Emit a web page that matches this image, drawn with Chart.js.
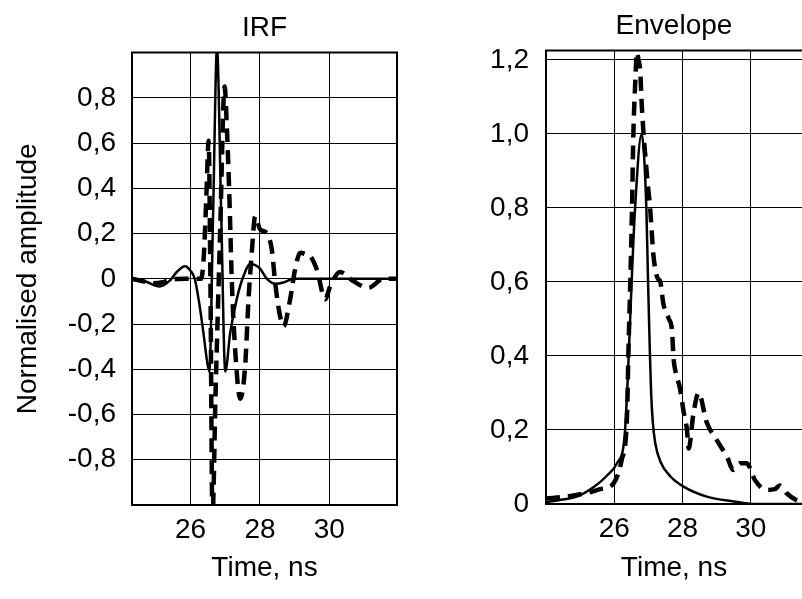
<!DOCTYPE html>
<html>
<head>
<meta charset="utf-8">
<script src="https://cdn.jsdelivr.net/npm/chart.js@4/dist/chart.umd.min.js"></script>
<style>
  html, body { margin: 0; padding: 0; background: #fff; overflow: hidden; }
  canvas { position: absolute; top: 0; }
  #irf { left: 0; }
  #envelope { left: 470px; }
</style>
</head>
<body>
<canvas id="irf" width="420" height="599"></canvas>
<canvas id="envelope" width="332" height="599"></canvas>
<script>
// IRF panel, solid trace (time in ns, normalised amplitude)
const irfSolidT = [24.3, 24.7, 25.1, 25.4, 25.6, 25.84, 26.0, 26.12, 26.23, 26.37, 26.47, 26.54, 26.65, 26.76, 26.88, 27.0, 27.14, 27.33, 27.52, 27.72, 28.0, 28.2, 28.45, 28.7, 28.97, 29.5, 30.5, 31.95];
const irfSolidA = [0.005, -0.012, -0.034, -0.008, 0.03, 0.056, 0.035, 0.0, -0.09, -0.24, -0.36, -0.41, 0.3, 1.02, 0.3, -0.41, -0.24, -0.09, 0.01, 0.065, 0.045, 0.0, -0.022, -0.015, 0.0, 0.0, 0.0, 0.0];

// IRF panel, dashed trace
const irfDashT = [24.3, 24.6, 24.92, 25.2, 25.4, 25.88, 26.3, 26.38, 26.45, 26.52, 26.57, 26.63, 26.72, 26.85, 26.98, 27.05, 27.12, 27.19, 27.3, 27.43, 27.57, 27.67, 27.77, 27.86, 28.0, 28.2, 28.34, 28.44, 28.56, 28.68, 28.87, 29.01, 29.16, 29.3, 29.45, 29.64, 29.88, 30.02, 30.31, 30.69, 31.12, 31.56, 31.95];
const irfDashA = [0.0, -0.01, -0.02, -0.015, -0.005, 0.0, 0.0, 0.1, 0.35, 0.61, 0.0, -1.05, -0.5, 0.2, 0.85, 0.65, 0.35, -0.02, -0.35, -0.53, -0.39, -0.09, 0.13, 0.276, 0.22, 0.2, 0.13, -0.02, -0.15, -0.21, -0.09, 0.04, 0.115, 0.11, 0.1, 0.04, -0.09, -0.034, 0.03, -0.01, -0.04, 0.0, 0.0];

// Envelope panel, solid trace
const envSolidT = [24.0, 24.5, 24.9, 25.4, 25.79, 26.08, 26.3, 26.4, 26.5, 26.61, 26.8, 26.94, 26.99, 27.04, 27.08, 27.13, 27.2, 27.35, 27.64, 28.03, 28.71, 29.5, 30.1, 31.5];
const envSolidA = [0.005, 0.012, 0.02, 0.046, 0.077, 0.11, 0.18, 0.35, 0.58, 0.8, 1.0, 0.8, 0.6, 0.42, 0.3, 0.22, 0.165, 0.115, 0.075, 0.047, 0.02, 0.007, 0.0, 0.0];

// Envelope panel, dashed trace
const envDashT = [24.0, 24.6, 25.2, 25.59, 25.98, 26.22, 26.37, 26.42, 26.47, 26.52, 26.56, 26.62, 26.66, 26.71, 26.76, 26.81, 26.97, 27.05, 27.15, 27.27, 27.35, 27.44, 27.6, 27.69, 27.74, 27.79, 27.93, 28.03, 28.13, 28.18, 28.32, 28.47, 28.71, 29.0, 29.3, 29.49, 29.68, 29.88, 30.12, 30.46, 30.7, 30.85, 31.05, 31.34, 31.5];
const envDashA = [0.015, 0.02, 0.03, 0.04, 0.056, 0.12, 0.23, 0.43, 0.6, 0.8, 1.0, 1.15, 1.22, 1.2, 1.17, 1.07, 0.875, 0.8, 0.67, 0.61, 0.6, 0.54, 0.5, 0.47, 0.39, 0.36, 0.31, 0.25, 0.2, 0.15, 0.245, 0.3, 0.22, 0.173, 0.128, 0.092, 0.11, 0.11, 0.065, 0.038, 0.04, 0.05, 0.029, 0.01, 0.005];

const timeTicks = [26, 28, 30];
const irfGrid = [-1, -0.8, -0.6, -0.4, -0.2, 0, 0.2, 0.4, 0.6, 0.8, 1];
const envGrid = [0, 0.2, 0.4, 0.6, 0.8, 1.0, 1.2];

const FONT = "'Liberation Sans', Arial, sans-serif";
const SIZE = 28;
const zip = (xs, ys) => xs.map((x, i) => ({x: x, y: ys[i]}));
const fmt = v => Math.abs(v) < 1e-9 ? "0" : v.toFixed(1).replace(".", ",");

// black box round the plot area (right side left open when the panel runs off the page)
const framePlugin = {
    id: "frame",
    afterDatasetsDraw(chart, args, opts) {
        const {ctx, chartArea: a} = chart;
        ctx.save();
        ctx.strokeStyle = "#000";
        ctx.lineWidth = 2;
        ctx.beginPath();
        if (opts.right === false) {
            ctx.moveTo(a.right + 2, a.top);
            ctx.lineTo(a.left, a.top);
            ctx.lineTo(a.left, a.bottom);
            ctx.lineTo(a.right + 2, a.bottom);
        } else {
            ctx.rect(a.left, a.top, a.right - a.left, a.bottom - a.top);
        }
        ctx.stroke();
        ctx.restore();
    }
};

function solid(data) {
    return {data: data, borderColor: "#000", borderWidth: 2.5, pointRadius: 0, cubicInterpolationMode: "monotone", fill: false};
}
function dashed(data) {
    return {data: data, borderColor: "#000", borderWidth: 4.5, borderDash: [14, 8], pointRadius: 0, cubicInterpolationMode: "monotone", fill: false};
}

function makeChart(id, cfg) {
    return new Chart(document.getElementById(id), {
        type: "line",
        data: {datasets: [solid(cfg.solid), dashed(cfg.dash)]},
        plugins: [framePlugin],
        options: {
            responsive: false,
            animation: false,
            devicePixelRatio: 1,
            layout: {padding: {left: 0, right: cfg.padRight, top: 0, bottom: 0}},
            plugins: {
                legend: {display: false},
                tooltip: {enabled: false},
                frame: {right: cfg.frameRight},
                title: {
                    display: true,
                    fullSize: false,
                    text: cfg.title,
                    color: "#000",
                    font: {family: FONT, size: SIZE, weight: "normal"},
                    padding: {top: cfg.titleTop, bottom: cfg.titleBottom}
                }
            },
            scales: {
                x: {
                    type: "linear",
                    min: cfg.xMin,
                    max: cfg.xMax,
                    afterBuildTicks: axis => { axis.ticks = timeTicks.map(v => ({value: v})); },
                    afterFit: axis => { axis.height = cfg.xHeight; },
                    grid: {color: "#000", lineWidth: 1, drawTicks: false},
                    border: {display: false},
                    ticks: {color: "#000", font: {family: FONT, size: SIZE}, padding: 8, maxRotation: 0},
                    title: {display: true, text: "Time, ns", color: "#000", font: {family: FONT, size: SIZE}, padding: {top: 0, bottom: 14}}
                },
                y: {
                    type: "linear",
                    min: cfg.yMin,
                    max: cfg.yMax,
                    afterBuildTicks: axis => { axis.ticks = cfg.yGrid.map(v => ({value: v})); },
                    afterFit: axis => { axis.width = cfg.yWidth; },
                    grid: {color: "#000", lineWidth: 1, drawTicks: false},
                    border: {display: false},
                    ticks: {
                        color: "#000",
                        font: {family: FONT, size: SIZE},
                        padding: cfg.yPad,
                        callback: v => (Math.abs(v) <= cfg.yLabelMax + 1e-9 ? fmt(v) : "")
                    },
                    title: {display: cfg.yTitle !== "", text: cfg.yTitle, color: "#000", font: {family: FONT, size: SIZE}, padding: {top: 11, bottom: 0}}
                }
            }
        }
    });
}

makeChart("irf", {
    title: "IRF",
    solid: zip(irfSolidT, irfSolidA),
    dash: zip(irfDashT, irfDashA),
    xMin: 24.31, xMax: 31.95,
    yMin: -1, yMax: 1,
    yGrid: irfGrid, yLabelMax: 0.8,
    yTitle: "Normalised amplitude",
    yWidth: 132, yPad: 16,
    xHeight: 94, padRight: 23,
    titleTop: 11, titleBottom: 8,
    frameRight: true
});

makeChart("envelope", {
    title: "Envelope",
    solid: zip(envSolidT, envSolidA),
    dash: zip(envDashT, envDashA),
    xMin: 24.0, xMax: 31.5,
    yMin: 0, yMax: 1.225,
    yGrid: envGrid, yLabelMax: 1.2,
    yTitle: "",
    yWidth: 76, yPad: 17,
    xHeight: 95, padRight: 0,
    titleTop: 9, titleBottom: 8,
    frameRight: false
});
</script>
</body>
</html>
